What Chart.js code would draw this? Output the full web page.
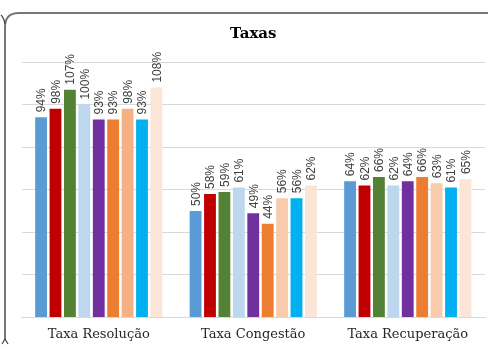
<!DOCTYPE html>
<html lang="pt">

<head>
    <meta charset="UTF-8">
    <title>Taxas</title>
    <style>
        body { margin: 0; background: #fff; }
    </style>
</head>

<body>
    <canvas id="taxas" width="488" height="345"></canvas>
    <script src="https://cdn.jsdelivr.net/npm/chart.js@4/dist/chart.umd.min.js"></script>
    <script>
        const categorias = ['Taxa Resolução', 'Taxa Congestão', 'Taxa Recuperação']

        // one array per series, in category order (%)
        const serie1 = [94, 50, 64]
        const serie2 = [98, 58, 62]
        const serie3 = [107, 59, 66]
        const serie4 = [100, 61, 62]
        const serie5 = [93, 49, 64]
        const serie6 = [93, 44, 66]
        const serie7 = [98, 56, 63]
        const serie8 = [93, 56, 61]
        const serie9 = [108, 62, 65]

        const yTicks = [0, 20, 40, 60, 80, 100, 120]

        const series = [serie1, serie2, serie3, serie4, serie5, serie6, serie7, serie8, serie9]
        const cores = [
            '#5B9BD5', '#C00000', '#548235', '#BDD7EE', '#7030A0',
            '#ED7D31', ['#F4B183', '#F8CBAD', '#F8CBAD'], '#00B0F0', '#FBE5D6'
        ]

        // rotated percentage labels above every bar
        const rotulos = {
            id: 'rotulos',
            afterDatasetsDraw(chart) {
                const ctx = chart.ctx
                ctx.save()
                ctx.font = '12px "Liberation Sans", Arial, sans-serif'
                ctx.fillStyle = '#404040'
                ctx.textAlign = 'left'
                ctx.textBaseline = 'middle'
                chart.data.datasets.forEach((ds, i) => {
                    chart.getDatasetMeta(i).data.forEach((bar, j) => {
                        ctx.save()
                        ctx.translate(bar.x, bar.y - 5)
                        ctx.rotate(-Math.PI / 2)
                        ctx.fillText(ds.data[j] + '%', 0, 1)
                        ctx.restore()
                    })
                })
                ctx.restore()
            }
        }

        // frame around the chart
        const moldura = {
            id: 'moldura',
            afterDraw(chart) {
                const ctx = chart.ctx
                ctx.save()
                ctx.lineWidth = 2
                ctx.strokeStyle = '#767676'
                ctx.beginPath()
                ctx.moveTo(5, 340)
                ctx.lineTo(5, 27)
                ctx.quadraticCurveTo(5, 13, 19, 13)
                ctx.lineTo(488, 13)
                ctx.stroke()
                ctx.lineWidth = 1.2
                ctx.strokeStyle = '#404040'
                ctx.beginPath()
                ctx.moveTo(5, 24)
                ctx.quadraticCurveTo(4, 18, 1, 15)
                ctx.moveTo(5, 339)
                ctx.lineTo(2, 344)
                ctx.moveTo(5, 339)
                ctx.lineTo(8, 344)
                ctx.stroke()
                ctx.restore()
            }
        }

        const ctx = document.getElementById('taxas').getContext('2d')
        const grafico = new Chart(ctx, {
            type: 'bar',
            data: {
                labels: categorias,
                datasets: series.map((s, i) => ({
                    label: 'Série ' + (i + 1),
                    data: s,
                    backgroundColor: cores[i],
                    categoryPercentage: 0.84,
                    barPercentage: 0.82
                }))
            },
            options: {
                responsive: false,
                animation: false,
                layout: { padding: { left: 21.5, right: 3, top: 13, bottom: 3 } },
                plugins: {
                    legend: { display: false },
                    tooltip: { enabled: false },
                    title: {
                        display: true,
                        text: 'Taxas',
                        color: '#000',
                        font: { family: '"DejaVu Serif", serif', size: 15, weight: 'bold' },
                        padding: { top: 12, bottom: 19 }
                    }
                },
                scales: {
                    x: {
                        afterFit(scale) { scale.height = 24.5 },
                        grid: { display: false, drawTicks: false },
                        border: { color: '#d9d9d9' },
                        ticks: {
                            color: '#262626',
                            padding: 9,
                            font: { family: '"DejaVu Serif", serif', size: 13 }
                        }
                    },
                    y: {
                        min: yTicks[0],
                        max: yTicks[yTicks.length - 1],
                        afterBuildTicks(scale) {
                            scale.ticks = yTicks.map(v => ({ value: v }))
                        },
                        grid: { color: '#d9d9d9', drawTicks: false },
                        border: { display: false },
                        ticks: { display: false }
                    }
                }
            },
            plugins: [rotulos, moldura]
        })
    </script>
</body>

</html>
